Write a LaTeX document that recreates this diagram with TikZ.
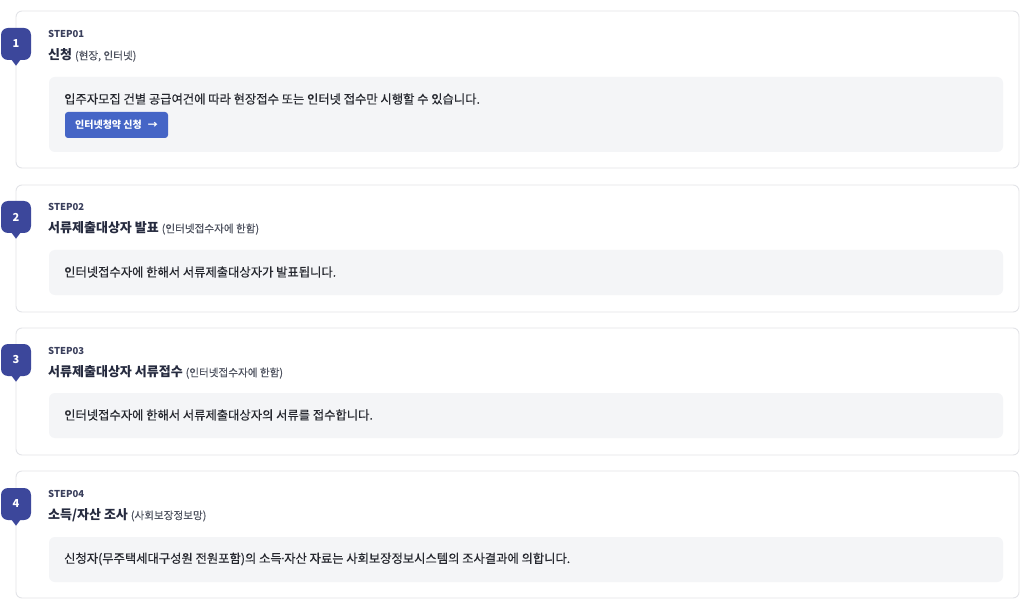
\documentclass[tikz,border=0pt]{standalone}
\usepackage{fontspec}
\setmainfont{Noto Sans CJK KR}
\newfontfamily\krmed{Noto Sans CJK KR}[FakeBold=0.35]
\usetikzlibrary{shapes.geometric}
\definecolor{cardline}{HTML}{E3E4E8}
\definecolor{innerfill}{HTML}{F4F5F7}
\definecolor{badgecol}{HTML}{3C479B}
\definecolor{btncol}{HTML}{4565C6}
\definecolor{stepcol}{HTML}{3A3F5C}
\definecolor{titlecol}{HTML}{262B3F}
\definecolor{subcol}{HTML}{4F5360}
\definecolor{bodycol}{HTML}{25272E}
\tikzset{
  card/.style={draw=cardline, line width=0.9pt, fill=white, rounded corners=6pt, minimum width=1003pt, inner sep=0pt},
  innerbox/.style={fill=innerfill, rounded corners=6pt, minimum width=954pt, inner sep=0pt},
  badgebox/.style={fill=badgecol, rounded corners=7pt, minimum width=30pt, minimum height=32pt, inner sep=0pt, text=white, font=\fontsize{11}{13}\selectfont\bfseries},
  steplbl/.style={anchor=west, inner sep=0pt, text=stepcol, font=\fontsize{9.5}{11}\selectfont\bfseries},
  titlelbl/.style={anchor=west, inner sep=0pt, text=titlecol, font=\fontsize{13}{15}\selectfont\bfseries},
  bodylbl/.style={anchor=west, inner sep=0pt, text=bodycol, font=\fontsize{12.3}{14}\krmed},
  btnbox/.style={fill=btncol, rounded corners=3pt, minimum width=103pt, minimum height=26pt, inner sep=0pt, text=white, font=\fontsize{10}{12}\selectfont\bfseries},
}
\newcommand{\subtxt}[1]{{\fontsize{10.6}{12}\krmed\mdseries\color{subcol}#1}}
\newcommand{\mybadge}[3]{%
  \node[badgebox] (#1) at (#2) {#3};
  \fill[badgecol] ([xshift=-4.5pt,yshift=0.5pt]#1.south) -- ([yshift=-5.5pt]#1.south) -- ([xshift=4.5pt,yshift=0.5pt]#1.south) -- cycle;
}
\begin{document}
\begin{tikzpicture}[x=1pt,y=-1pt]
\useasboundingbox[fill=white] (0,0) rectangle (1024,601);
% cards
\node[card, minimum height=157pt] (c1) at (517.5,89.5) {};
\node[card, minimum height=127pt] (c2) at (517.5,248.5) {};
\node[card, minimum height=127pt] (c3) at (517.5,391.5) {};
\node[card, minimum height=127pt] (c4) at (517.5,534.5) {};
% inner boxes
\node[innerbox, minimum height=75pt] (i1) at (526,114.5) {};
\node[innerbox, minimum height=45pt] (i2) at (526,272.5) {};
\node[innerbox, minimum height=45pt] (i3) at (526,415.5) {};
\node[innerbox, minimum height=45pt] (i4) at (526,559.5) {};
% badges
\mybadge{b1}{16,44}{1}
\mybadge{b2}{16,217}{2}
\mybadge{b3}{16,360}{3}
\mybadge{b4}{16,504}{4}
% step 1
\node[steplbl] (s1) at (48,34) {STEP01};
\node[titlelbl] (t1) at (48,55) {신청 \subtxt{(현장, 인터넷)}};
\node[bodylbl] (d1) at (64,99) {입주자모집 건별 공급여건에 따라 현장접수 또는 인터넷 접수만 시행할 수 있습니다.};
\node[btnbox] (btn) at (116.5,125) {인터넷청약 신청\hspace{6pt}→};
% step 2
\node[steplbl] (s2) at (48,207) {STEP02};
\node[titlelbl] (t2) at (48,228) {서류제출대상자 발표 \subtxt{(인터넷접수자에 한함)}};
\node[bodylbl] (d2) at (64,272) {인터넷접수자에 한해서 서류제출대상자가 발표됩니다.};
% step 3
\node[steplbl] (s3) at (48,351) {STEP03};
\node[titlelbl] (t3) at (48,372) {서류제출대상자 서류접수 \subtxt{(인터넷접수자에 한함)}};
\node[bodylbl] (d3) at (64,415) {인터넷접수자에 한해서 서류제출대상자의 서류를 접수합니다.};
% step 4
\node[steplbl] (s4) at (48,494) {STEP04};
\node[titlelbl] (t4) at (48,515) {소득/자산 조사 \subtxt{(사회보장정보망)}};
\node[bodylbl] (d4) at (64,559) {신청자(무주택세대구성원 전원포함)의 소득\kern-2.2pt·\kern-2.2pt자산 자료는 사회보장정보시스템의 조사결과에 의합니다.};
\end{tikzpicture}
\end{document}
